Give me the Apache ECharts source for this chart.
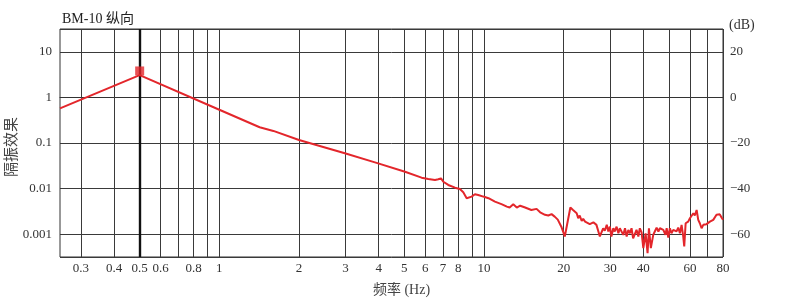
<!DOCTYPE html>
<html><head><meta charset="utf-8">
<script src="https://cdn.jsdelivr.net/npm/echarts@6/dist/echarts.min.js"></script>
<style>html,body{margin:0;padding:0;background:#fff}#c{width:800px;height:303px}</style>
</head><body><div id="c"></div>
<script>
const titleText = 'BM-10 纵向';
const freqHz = [0.25,0.5,1.0,1.42,1.6,2.0,2.98,3.9,5.03,5.81,6.16,6.53,6.72,6.88,7.02,7.33,7.77,8.11,8.35,8.60,8.72,8.98,9.24,9.51,9.94,10.4,11.0,11.7,12.2,12.5,12.9,13.3,13.7,14.3,15.1,15.8,16.3,17.0,17.5,18.0,18.5,19.0,19.6,20.2,20.5,21.2,21.7,22.4,22.7,23.0,23.4,23.7,24.1,24.4,25.1,25.9,26.6,27.0,27.4,28.2,28.6,29.1,29.5,29.9,30.3,30.8,31.2,31.7,32.2,32.6,33.6,34.1,34.6,35.1,35.6,36.1,36.6,37.7,38.3,38.8,39.4,40.0,40.8,41.5,42.0,42.7,43.6,44.2,44.9,45.6,46.2,46.9,47.6,48.5,49.0,49.7,50.4,51.1,51.9,52.6,53.4,54.2,55.0,55.8,56.6,57.1,57.8,59.1,60.0,60.8,61.8,62.6,63.6,64.5,65.4,66.4,67.4,68.3,69.3,70.4,71.4,72.4,73.5,74.5,75.6,76.8,77.8,79.0,80.0];
const responseDb = [-4.8,9.8,-5.4,-13.1,-14.7,-18.7,-24.5,-28.6,-32.6,-35.2,-35.8,-36.2,-35.9,-35.5,-37.0,-38.4,-39.6,-40.2,-41.6,-44.2,-45.0,-43.5,-42.5,-42.8,-43.5,-44.2,-45.7,-46.9,-47.9,-48.3,-46.9,-48.3,-47.5,-48.3,-49.4,-48.9,-50.4,-51.5,-51.8,-51.2,-52.3,-53.6,-56.7,-61.0,-60.3,-48.3,-49.4,-50.8,-53.0,-51.8,-54.2,-53.3,-54.5,-53.7,-55.6,-54.8,-55.9,-55.6,-61.0,-57.4,-58.5,-55.9,-58.8,-56.7,-61.0,-57.4,-58.8,-56.7,-59.6,-57.4,-60.3,-57.4,-61.0,-58.1,-59.6,-57.4,-61.8,-58.1,-61.0,-57.4,-59.2,-66.1,-59.6,-68.3,-57.4,-66.1,-60.3,-58.8,-57.1,-58.8,-57.4,-56.7,-58.1,-60.3,-57.4,-61.5,-57.4,-59.6,-58.1,-57.4,-58.8,-57.1,-59.6,-55.9,-61.0,-65.4,-55.2,-54.5,-53.0,-53.7,-50.8,-51.8,-49.4,-53.7,-55.2,-57.4,-55.9,-56.7,-55.6,-55.2,-54.5,-55.2,-53.7,-53.0,-51.5,-52.3,-51.3,-52.7,-53.7];
const peakMarker = [0.5, 3.8];
const xGridValues = [0.3,0.4,0.5,0.6,0.7,0.8,0.9,1,2,3,4,5,6,7,8,9,10,20,30,40,50,60,70,80];
const xTickLabels = ['0.3','0.4','0.5','0.6','','0.8','','1','2','3','4','5','6','7','8','','10','20','30','40','','60','','80'];
const yTickValues = [0.001,0.01,0.1,1,10];
const yTickLabels = ['0.001','0.01','0.1','1','10'];
const dbTickValues = [-60,-40,-20,0,20];

const serif = '"Liberation Serif", "DejaVu Serif", serif';
const cjk = '"Liberation Serif", "Noto Sans CJK SC", serif';
const red = '#e3262b';

const chart = echarts.init(document.getElementById('c'), null, {renderer:'canvas'});
const lineData = freqHz.map((f,i)=>[f, responseDb[i]]);
const vLines = xGridValues.map((v,i)=>{
  const item = {xAxis: v, label:{show: xTickLabels[i] !== '', formatter: xTickLabels[i]}};
  if (v === 0.5) item.lineStyle = {width: 2.4, color: '#111'};
  return item;
});
const yMap = {}; yTickValues.forEach((v,i)=>{yMap[v.toPrecision(3)] = yTickLabels[i];});

chart.setOption({
  animation: false,
  backgroundColor: '#fff',
  title: {text: titleText, left: 57, top: 7, textStyle:{fontFamily: cjk, fontSize: 14, fontWeight: 'normal', color:'#222'}},
  grid: {left: 60, right: 77, top: 29, bottom: 46, show: true, borderColor: '#333', borderWidth: 1,
         containLabel: false, outerBoundsMode: 'none'},
  xAxis: {type:'log', logBase:10, min:0.25, max:80,
    name:'频率 (Hz)', nameLocation:'middle', nameGap: 26, nameMoveOverlap: false,
    nameTextStyle:{fontFamily: cjk, fontSize: 14, color:'#444', padding:[0,0,0,20]},
    axisLine:{show:true, lineStyle:{color:'#333'}}, axisTick:{show:false}, axisLabel:{show:false}, splitLine:{show:false}},
  yAxis: [
    {type:'log', logBase:10, min: Math.pow(10,-3.5), max: Math.pow(10,1.5),
     name:'隔振效果', nameLocation:'middle', nameGap: 42, nameRotate: 90, nameMoveOverlap: false,
     nameTextStyle:{fontFamily:'"Noto Sans CJK SC", sans-serif', fontSize: 15, color:'#444', padding:[0,8,0,0]},
     axisLine:{show:false}, axisTick:{show:false},
     axisLabel:{showMinLabel:false, showMaxLabel:false, margin: 8, fontFamily: serif, fontSize: 13, color:'#333',
       formatter: v => { const k = Number(v).toPrecision(3); return yMap[k] || ''; }},
     splitLine:{show:true, lineStyle:{color:'#3a3a3a', width:1}}},
    {type:'value', min:-70, max:30, interval:10, position:'right',
     name:'(dB)', nameLocation:'end', nameGap: 4, nameMoveOverlap: false,
     nameTextStyle:{fontFamily: serif, fontSize: 14, color:'#333', align:'left', verticalAlign:'middle', padding:[0,0,0,6]},
     axisLine:{show:false}, axisTick:{show:false}, splitLine:{show:false},
     axisLabel:{margin: 7, fontFamily: serif, fontSize: 13, color:'#333',
       formatter: v => dbTickValues.indexOf(v) >= 0 ? String(v).replace('-', '\u2212') : ''}}
  ],
  series: [
    {type:'line', xAxisIndex:0, yAxisIndex:0, data:[], z:1, silent:true,
     markLine:{silent:true, symbol:['none','none'], animation:false,
       lineStyle:{color:'#3a3a3a', width:1, type:'solid'},
       label:{position:'start', distance:5, fontFamily: serif, fontSize: 13, color:'#333'},
       emphasis:{disabled:true},
       data: vLines}},
    {type:'line', xAxisIndex:0, yAxisIndex:1, data: lineData, showSymbol:false, symbol:'none', z:5,
     lineStyle:{color: red, width: 2}, silent:true},
    {type:'scatter', xAxisIndex:0, yAxisIndex:0, data:[peakMarker], symbol:'rect', symbolSize:9, z:6,
     itemStyle:{color: red}, silent:true}
  ]
});
</script></body></html>
